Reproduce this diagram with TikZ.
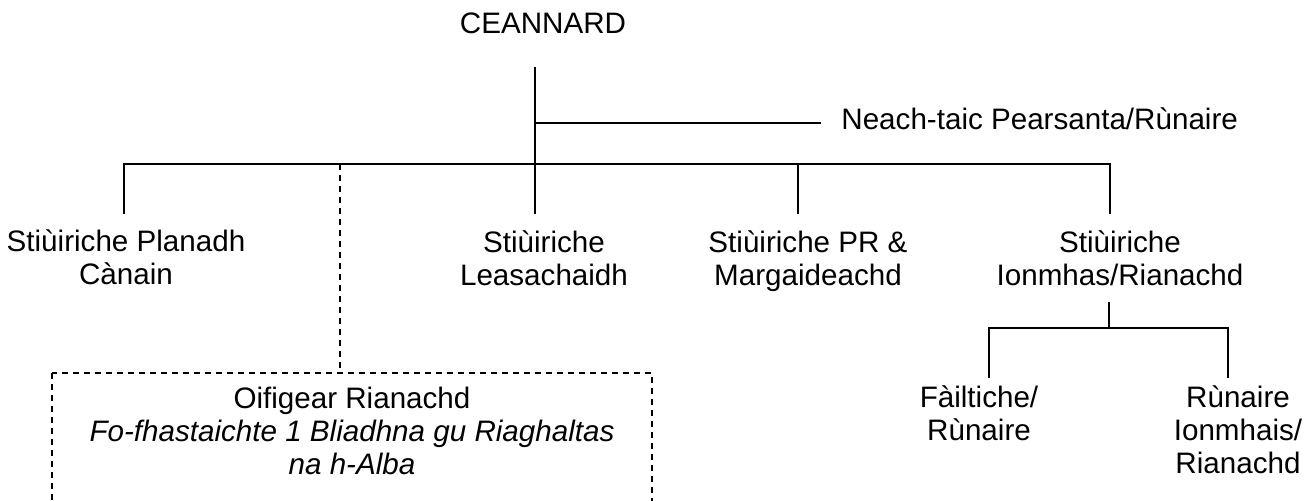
\documentclass[tikz,border=0pt]{standalone}
\usepackage{fontspec}
\setmainfont{Liberation Sans}
\newcommand{\ml}[1]{\begin{tabular}[t]{@{}c@{}}#1\end{tabular}}
\begin{document}
\begin{tikzpicture}[x=0.5pt,y=-0.5pt,
  lbl/.style={anchor=base,inner sep=0pt,font=\fontsize{14.8}{16.6}\selectfont},
  conn/.style={line width=0.85pt,line cap=rect},
  mainconn/.style={line width=1.25pt,line cap=rect},
  dashconn/.style={line width=0.85pt,dash pattern=on 3pt off 2.5pt}]
\clip (0,0) rectangle (1316,500);
\fill[white] (0,0) rectangle (1316,500);
% text nodes
\node[lbl] (ceo) at (543,33) {CEANNARD};
\node[lbl,anchor=base west] (pa) at (841,129) {Neach-taic Pearsanta/Rùnaire};
\node[lbl] (d1) at (126,251) {\ml{Stiùiriche Planadh\\Cànain}};
\node[lbl] (d2) at (544,252) {\ml{Stiùiriche\\Leasachaidh}};
\node[lbl] (d3) at (808,252) {\ml{Stiùiriche PR \&\\Margaideachd}};
\node[lbl] (d4) at (1120,252) {\ml{Stiùiriche\\Ionmhas/Rianachd}};
\node[lbl] (oif) at (352,408) {\ml{Oifigear Rianachd\\\textit{Fo-fhastaichte 1 Bliadhna gu Riaghaltas}\\\textit{na h-Alba}}};
\node[lbl] (s1) at (979,407) {\ml{Fàiltiche/\\Rùnaire}};
\node[lbl] (s2) at (1238,407) {\ml{Rùnaire\\Ionmhais/\\Rianachd}};
% connector points
\coordinate (ceoB) at (535,68);
\coordinate (jpa) at (535,123);
\coordinate (paL) at (820,123);
\coordinate (j0) at (535,164);
\coordinate (mL) at (124,164);
\coordinate (mR) at (1110,164);
\coordinate (jd3) at (798,164);
\coordinate (jdash) at (340,164);
\coordinate (d1T) at (124,213);
\coordinate (d2T) at (535,213);
\coordinate (d3T) at (798,213);
\coordinate (d4T) at (1110,213);
\coordinate (boxT) at (340,373);
\coordinate (boxNW) at (52,373);
\coordinate (boxSE) at (652,540);
\coordinate (d4B) at (1109,303);
\coordinate (sj) at (1109,328);
\coordinate (sL) at (989,328);
\coordinate (sR) at (1228,328);
\coordinate (s1T) at (989,377);
\coordinate (s2T) at (1228,377);
% connectors
\draw[conn] (ceoB) -- (d2T);
\draw[conn] (jpa) -- (paL);
\draw[mainconn] (mL) -- (mR);
\draw[conn] (mL) -- (d1T);
\draw[conn] (jd3) -- (d3T);
\draw[conn] (mR) -- (d4T);
\draw[dashconn] (jdash) -- (boxT);
\draw[dashconn] (boxNW) rectangle (boxSE);
\draw[conn] (d4B) -- (sj);
\draw[conn] (sL) -- (sR);
\draw[conn] (sL) -- (s1T);
\draw[conn] (sR) -- (s2T);
\end{tikzpicture}
\end{document}
